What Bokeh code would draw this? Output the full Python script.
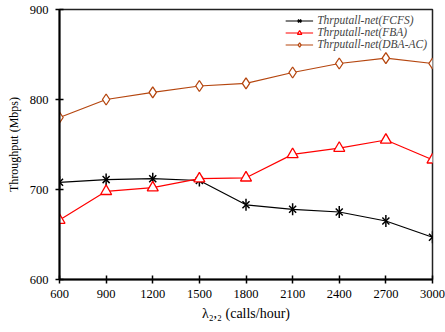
import math
from bokeh.plotting import figure
from bokeh.embed import file_html
from bokeh.resources import INLINE
from bokeh.models import Range1d, FixedTicker, Legend, LegendItem

x_vals = [600, 900, 1200, 1500, 1800, 2100, 2400, 2700, 3000]
fcfs = [708, 711, 712, 710, 683, 678, 675, 665, 647]
fba = [666, 698, 702, 712, 713, 739, 746, 755, 733]
dba_ac = [780, 800, 808, 815, 818, 830, 840, 846, 840]
series_names = ["Thrputall-net(FCFS)", "Thrputall-net(FBA)", "Thrputall-net(DBA-AC)"]
y_ticks = [600, 700, 800, 900]
x_title = "λ₂,₂ (calls/hour)"
y_title = "Throughput (Mbps)"

FONT = "Liberation Serif"
BROWN = "#B5460F"

p = figure(width=445, height=332, output_backend="svg", toolbar_location=None,
           x_range=Range1d(600, 3000), y_range=Range1d(600, 900),
           min_border_left=59, min_border_right=13, min_border_top=9, min_border_bottom=53)
p.xgrid.visible = False
p.ygrid.visible = False
p.outline_line_color = "#222222"
p.outline_line_width = 1.5
p.background_fill_color = "white"
p.border_fill_color = "white"

for ax in (p.xaxis[0], p.yaxis[0]):
    ax.axis_line_width = 2
    ax.axis_line_color = "black"
    ax.major_tick_line_width = 1.5
    ax.major_tick_line_color = "black"
    ax.major_tick_in = 4
    ax.major_tick_out = 4
    ax.minor_tick_line_color = None
    ax.major_label_text_font = FONT
    ax.major_label_text_font_size = "12.5px"
    ax.major_label_text_color = "black"
    ax.axis_label_text_font = FONT
    ax.axis_label_text_font_style = "normal"
    ax.axis_label_text_color = "black"

p.xaxis.ticker = FixedTicker(ticks=x_vals)
p.yaxis.ticker = FixedTicker(ticks=y_ticks)
p.xaxis.major_label_standoff = 6
p.yaxis.major_label_standoff = 7

p.yaxis.axis_label = y_title
p.yaxis.axis_label_text_font_size = "12px"
p.yaxis.axis_label_standoff = 6

p.xaxis.axis_label = x_title
p.xaxis.axis_label_text_font_size = "14px"
p.xaxis.axis_label_standoff = 5

r1l = p.line(x_vals, fcfs, line_color="black", line_width=1.2)
r1m = p.scatter(x_vals, fcfs, marker="x", size=10, line_color="black", line_width=1.5)
r1v = p.scatter(x_vals, fcfs, marker="dash", size=12, angle=math.pi / 2, line_color="black", line_width=1.5)
r2l = p.line(x_vals, fba, line_color="red", line_width=1.2)
r2m = p.scatter(x_vals, fba, marker="triangle", size=11, line_color="red", fill_color="white", line_width=1.3)
r3l = p.line(x_vals, dba_ac, line_color=BROWN, line_width=1.2)
r3m = p.scatter(x_vals, dba_ac, marker="diamond", size=11, line_color=BROWN, fill_color="white", line_width=1.3)

legend = Legend(items=[
    LegendItem(label=series_names[0], renderers=[r1l, r1m, r1v]),
    LegendItem(label=series_names[1], renderers=[r2l, r2m]),
    LegendItem(label=series_names[2], renderers=[r3l, r3m]),
], location="top_right")
legend.border_line_color = None
legend.background_fill_alpha = 0
legend.label_text_font = FONT
legend.label_text_font_style = "italic"
legend.label_text_font_size = "11.5px"
legend.label_height = 11
legend.glyph_height = 11
legend.glyph_width = 28
legend.spacing = 0
legend.padding = 2
legend.margin = 5
legend.label_standoff = 4
p.add_layout(legend)

open("out.html", "w").write(file_html(p, INLINE))
